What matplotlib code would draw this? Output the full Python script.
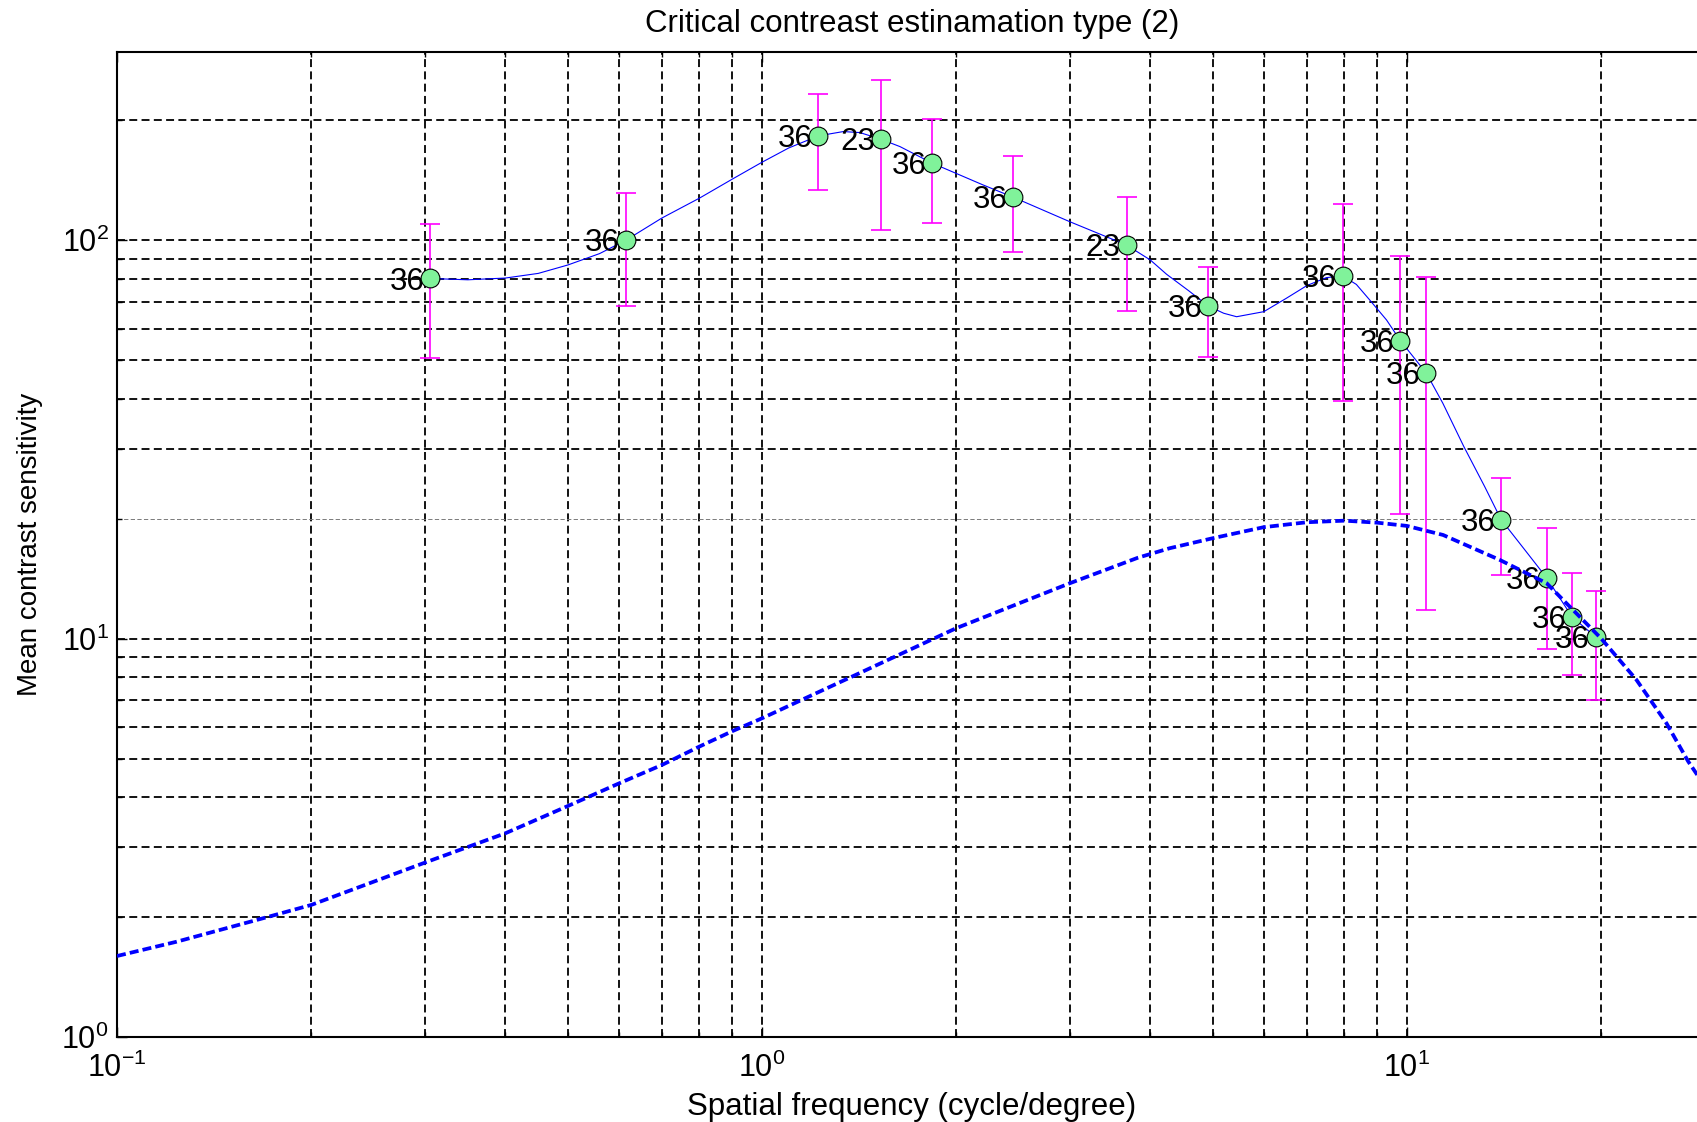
import numpy as np
import matplotlib
matplotlib.use("Agg")
import matplotlib.pyplot as plt
from matplotlib.ticker import LogLocator, NullFormatter

plt.rcParams['font.family'] = ['Liberation Sans', 'DejaVu Sans']
plt.rcParams['mathtext.fontset'] = 'custom'
plt.rcParams['mathtext.rm'] = 'Liberation Sans'
plt.rcParams['mathtext.it'] = 'Liberation Sans:italic'
plt.rcParams['mathtext.bf'] = 'Liberation Sans:bold'
plt.rcParams['mathtext.sf'] = 'Liberation Sans'

# ---- data ----
freq = [0.306, 0.615, 1.223, 1.529, 1.837, 2.453, 3.676, 4.92, 7.95, 9.77,
        10.72, 14.0, 16.48, 18.03, 19.62]
sens = [80.2, 100.0, 182.9, 179.4, 156.2, 128.3, 97.3, 68.4, 81.4, 56.0,
        46.4, 19.9, 14.2, 11.35, 10.1]
sens_sd = [29.5, 31.5, 49.5, 73.5, 45.5, 34.6, 31.0, 17.5, 41.8, 35.5,
           34.6, 5.45, 4.8, 3.25, 3.07]
n_labels = ['36', '36', '36', '23', '36', '36', '23', '36', '36', '36',
            '36', '36', '36', '36', '36']

# fitted (solid) curve
fit_x = [0.306, 0.35, 0.40, 0.45, 0.50, 0.56, 0.615, 0.70, 0.80, 0.90,
         1.00, 1.10, 1.223, 1.337, 1.419, 1.529, 1.637, 1.837, 2.203, 2.453,
         3.0, 3.676, 4.0, 4.24, 4.6, 4.92, 5.2, 5.445, 6.0, 6.5, 7.0, 7.5,
         7.95, 8.35, 8.76, 9.3, 9.77, 10.72, 11.37, 12.25, 13.2, 14.0, 15.24,
         16.48, 18.03, 19.62]
fit_y = [80.2, 79.6, 80.4, 82.6, 86.7, 92.6, 100.0, 113.8, 127.6, 142.5,
         157.0, 170.5, 182.9, 187.5, 186.4, 179.4, 171.9, 156.2, 137.7, 128.3,
         111.4, 97.3, 89.3, 82.2, 74.5, 68.4, 65.6, 64.3, 66.2, 71.5, 77.0,
         80.6, 81.4, 77.5, 70.8, 63.1, 56.0, 46.4, 39.0, 30.4, 24.1, 19.9,
         16.7, 14.2, 11.35, 10.1]

# model (dashed) curve
model_x = [0.1, 0.1238, 0.1685, 0.2, 0.3, 0.4, 0.5, 0.6, 0.7, 0.8, 0.9, 1.0,
           1.386, 2.0, 3.0, 3.83, 4.29, 5.0, 6.0, 7.0, 8.0, 9.0, 10.0, 11.38,
           13.94, 16.47, 20.0, 22.7, 25.27, 27.3, 28.6]
model_y = [1.597, 1.735, 1.987, 2.145, 2.739, 3.246, 3.80, 4.33, 4.82, 5.36,
           5.86, 6.31, 8.06, 10.62, 13.77, 15.97, 16.87, 17.87, 19.05, 19.6,
           19.78, 19.55, 19.19, 18.21, 15.76, 13.78, 10.02, 7.88, 6.13, 4.92,
           4.4]

xtick_vals = [0.1, 1, 10]
xtick_labels = ['$10^{-1}$', '$10^{0}$', '$10^{1}$']
ytick_vals = [1, 10, 100]
ytick_labels = ['$10^{0}$', '$10^{1}$', '$10^{2}$']

title = 'Critical contreast estinamation type (2)'
xlabel = 'Spatial frequency (cycle/degree)'
ylabel = 'Mean contrast sensitivity'

# ---- figure ----
W, H = 1697, 1122
fig = plt.figure(figsize=(W / 100, H / 100), dpi=100)
ax = fig.add_axes([117 / W, 85 / H, 1590 / W, 985 / H])
ax.set_xscale('log')
ax.set_yscale('log')
ax.set_xlim(0.1, 29.2)
ax.set_ylim(1, 297)

ax.set_xticks(xtick_vals, labels=xtick_labels)
ax.set_yticks(ytick_vals, labels=ytick_labels)
for axis in (ax.xaxis, ax.yaxis):
    axis.set_minor_locator(LogLocator(base=10, subs=np.arange(2, 10), numticks=50))
    axis.set_minor_formatter(NullFormatter())

ax.tick_params(which='both', direction='in', top=True, right=True,
               width=1.0, color='black', labelsize=22)
ax.tick_params(which='major', length=7)
ax.tick_params(which='minor', length=3.5)
ax.tick_params(axis='y', pad=6)
ax.tick_params(axis='x', pad=11)

for sp in ax.spines.values():
    sp.set_linewidth(1.5)
    sp.set_color('black')

ax.grid(True, which='both', color='black', linewidth=1.3,
        linestyle=(0, (4.4, 2.4)))
ax.set_axisbelow(True)

ax.errorbar(freq, sens, yerr=sens_sd, fmt='none', ecolor='#FF00FF',
            elinewidth=1.2, capsize=7.2, capthick=1.2, zorder=3)
ax.plot(fit_x, fit_y, color='#0000FF', lw=0.8, zorder=4)
for f, s, lab in zip(freq, sens, n_labels):
    ax.annotate(lab, (f, s), xytext=(-4.2, -8.0), textcoords='offset points',
                ha='right', va='baseline', fontsize=22.5, color='black',
                zorder=5)
ax.plot(freq, sens, linestyle='none', marker='o', ms=13.5,
        mfc='#80F29A', mec='black', mew=0.8, zorder=6)
ax.plot(model_x, model_y, color='#0000FF', lw=2.7,
        linestyle=(0, (2.4, 1.1)), zorder=7)

ax.set_title(title, fontsize=22.5, pad=0, y=1.028, va='center')
ax.set_xlabel(xlabel, fontsize=22.5)
ax.xaxis.set_label_coords(0.5, -0.071)
ax.xaxis.label.set_verticalalignment('center')
ax.set_ylabel(ylabel, fontsize=20)
ax.yaxis.set_label_coords(-0.0547, 0.5)
ax.yaxis.label.set_verticalalignment('center')

fig.canvas.draw()
for t in ax.yaxis.get_minor_ticks():
    if np.isclose(t.get_loc(), 20):
        t.gridline.set_color('#7a7a7a')
        t.gridline.set_linewidth(0.7)

fig.savefig('out.png', dpi=100, facecolor='white')
